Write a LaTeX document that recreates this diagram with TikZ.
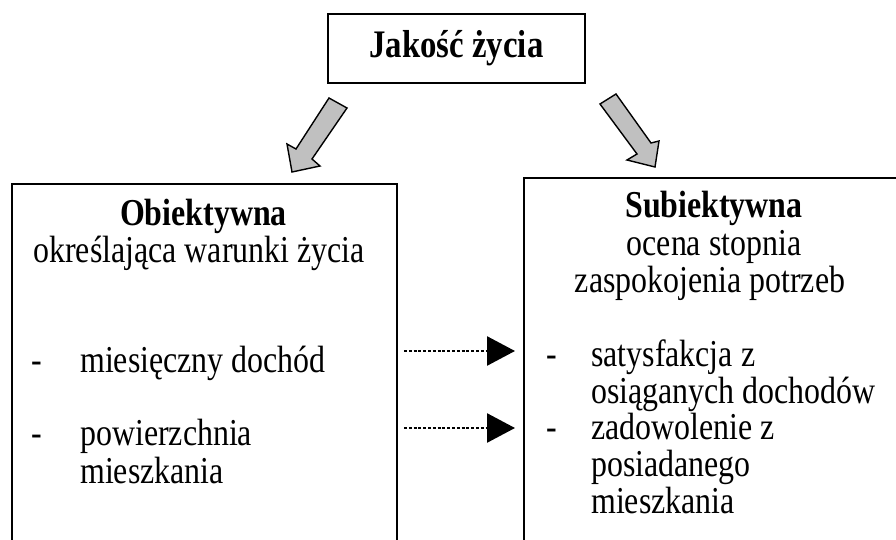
\documentclass[tikz,border=0pt]{standalone}
\usepackage{fontspec}
\setmainfont{Liberation Serif}[FakeStretch=0.84]
\usetikzlibrary{arrows.meta}
\definecolor{arrowgray}{HTML}{C0C0C0}
\tikzset{
  boxframe/.style={draw=black, line width=2pt},
  txt/.style={inner sep=0pt, font=\fontsize{38}{44}\selectfont, text height=23pt, text depth=6pt},
  txtb/.style={inner sep=0pt, font=\fontsize{38}{44}\selectfont\bfseries, text height=23pt, text depth=6pt},
  blockarrow/.style={draw=black, line width=1.4pt, fill=arrowgray, line join=miter},
  dotarrow/.style={line width=2.6pt, dash pattern=on 3pt off 1.8pt, -{Triangle[length=28pt,width=29pt]}}
}
\begin{document}
\begin{tikzpicture}[x=1pt,y=1pt]
\useasboundingbox (0,0) rectangle (896,-540);
\clip (0,0) rectangle (896,-540);
% top box
\node[boxframe, minimum width=257pt, minimum height=69pt, inner sep=0pt, font=\fontsize{39}{44}\selectfont\bfseries] (top) at (456.5,-48.5) {Jakość życia};
% left and right boxes (extend below the picture)
\node[boxframe, minimum width=385pt, minimum height=400pt, anchor=north west, inner sep=0pt] (left) at (11,-183) {};
\node[boxframe, minimum width=390pt, minimum height=400pt, anchor=north west, inner sep=0pt] (right) at (523,-177) {};
% block arrows
\draw[blockarrow] (329,-98) -- (347,-108) -- (312,-159) -- (320,-166) -- (292,-172) -- (287,-144) -- (296,-149) -- cycle;
\draw[blockarrow] (600,-104) -- (616,-94) -- (651,-143) -- (659,-141) -- (655,-167) -- (627,-160) -- (637,-154) -- cycle;
% left texts
\node[txtb, anchor=base] (lt1) at (203.5,-225) {Obiektywna};
\node[txt, anchor=base] (lt2) at (199,-262) {określająca warunki życia};
\node[txt, anchor=base west] (ld1) at (31,-372) {-};
\node[txt, anchor=base west] (li1) at (80,-372) {miesięczny dochód};
\node[txt, anchor=base west] (ld2) at (31,-445) {-};
\node[txt, anchor=base west] (li2) at (80,-445) {powierzchnia};
\node[txt, anchor=base west] (li3) at (80,-483) {mieszkania};
% right texts
\node[txtb, anchor=base] (rt1) at (714,-217) {Subiektywna};
\node[txt, anchor=base] (rt2) at (714,-255) {ocena stopnia};
\node[txt, anchor=base] (rt3) at (710,-292) {zaspokojenia potrzeb};
\node[txt, anchor=base west] (rd1) at (546,-366) {-};
\node[txt, anchor=base west] (ri1) at (591,-366) {satysfakcja z};
\node[txt, anchor=base west] (ri2) at (591,-403) {osiąganych dochodów};
\node[txt, anchor=base west] (rd2) at (546,-439) {-};
\node[txt, anchor=base west] (ri3) at (591,-439) {zadowolenie z};
\node[txt, anchor=base west] (ri4) at (591,-476) {posiadanego};
\node[txt, anchor=base west] (ri5) at (591,-513) {mieszkania};
% dotted arrows
\coordinate (a1s) at (404,-351);
\coordinate (a1e) at (515,-351);
\coordinate (a2s) at (404,-428);
\coordinate (a2e) at (515,-428);
\draw[dotarrow] (a1s) -- (a1e);
\draw[dotarrow] (a2s) -- (a2e);
\end{tikzpicture}
\end{document}
